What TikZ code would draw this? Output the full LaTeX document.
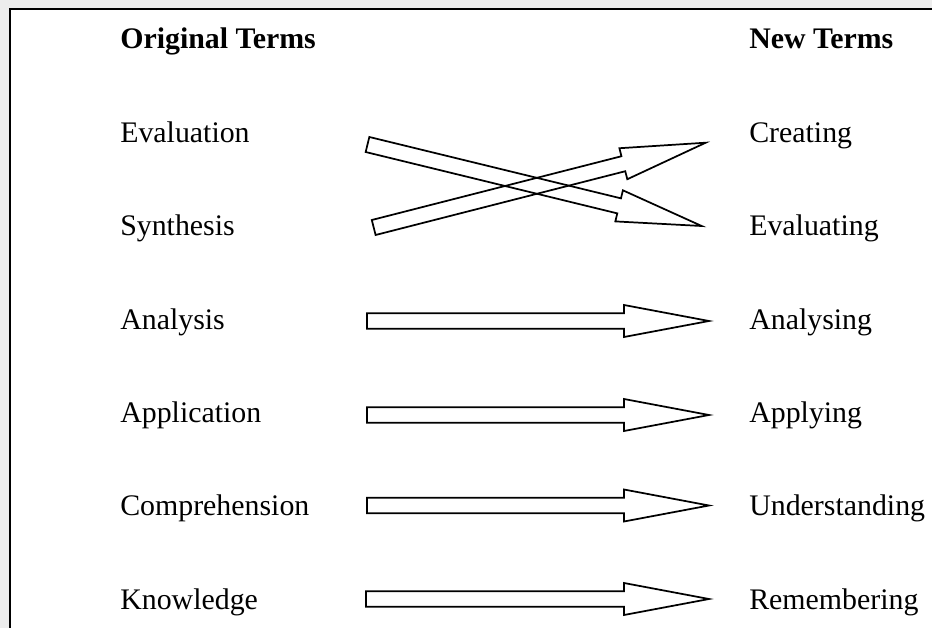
\documentclass[tikz,border=0pt]{standalone}
\usepackage{fontspec}
\setmainfont{Liberation Serif}
\usetikzlibrary{calc}

% hollow block arrow from #1 to #2
\newcommand{\blockarrow}[2]{%
  \draw[blockline] ($(#1)!5.8pt!90:(#2)$)
    -- ($(#2)!63.75pt!(#1)!5.8pt!90:(#2)$)
    -- ($(#2)!63.75pt!(#1)!12pt!90:(#2)$)
    -- (#2)
    -- ($(#2)!63.75pt!(#1)!12pt!-90:(#2)$)
    -- ($(#2)!63.75pt!(#1)!5.8pt!-90:(#2)$)
    -- ($(#1)!5.8pt!-90:(#2)$) -- cycle;}

\begin{document}
\begin{tikzpicture}[x=0.75pt,y=-0.75pt,
  term/.style={anchor=base west,inner sep=0pt,font=\fontsize{22.4}{26}\selectfont},
  head/.style={term,font=\fontsize{22.4}{26}\selectfont\bfseries},
  blockline/.style={line width=1.3pt,line join=miter}]
\useasboundingbox (0,0) rectangle (932,628);

% Page and frame
\fill[gray!14] (0,0) rectangle (932,628);
\fill[white] (10,9) rectangle (940,640);
\draw[line width=1.5pt] (10,640) -- (10,9) -- (940,9);

% Headings
\node[head] (orig) at (120,48) {Original Terms};
\node[head] (new) at (749,48) {New Terms};

% Original terms
\node[term] (evaluation) at (120,142) {Evaluation};
\node[term] (synthesis) at (120,235) {Synthesis};
\node[term] (analysis) at (120,329) {Analysis};
\node[term] (application) at (120,422) {Application};
\node[term] (comprehension) at (120,515) {Comprehension};
\node[term] (knowledge) at (120,609) {Knowledge};

% New terms
\node[term] (creating) at (749,142) {Creating};
\node[term] (evaluating) at (749,235) {Evaluating};
\node[term] (analysing) at (749,329) {Analysing};
\node[term] (applying) at (749,422) {Applying};
\node[term] (understanding) at (749,515) {Understanding};
\node[term] (remembering) at (749,609) {Remembering};

% Arrow ends
\coordinate (evalS) at (367.5,144.5);
\coordinate (evalE) at (701.7,226);
\coordinate (synS) at (373.7,227.5);
\coordinate (synE) at (705.7,142.7);
\coordinate (anaS) at (367,321);
\coordinate (anaE) at (709,321);
\coordinate (appS) at (367,415);
\coordinate (appE) at (709,415);
\coordinate (comS) at (367,505.5);
\coordinate (comE) at (709,505.5);
\coordinate (knoS) at (366,599);
\coordinate (knoE) at (709,599);

% Arrows
\blockarrow{evalS}{evalE}
\blockarrow{synS}{synE}
\blockarrow{anaS}{anaE}
\blockarrow{appS}{appE}
\blockarrow{comS}{comE}
\blockarrow{knoS}{knoE}
\end{tikzpicture}
\end{document}
